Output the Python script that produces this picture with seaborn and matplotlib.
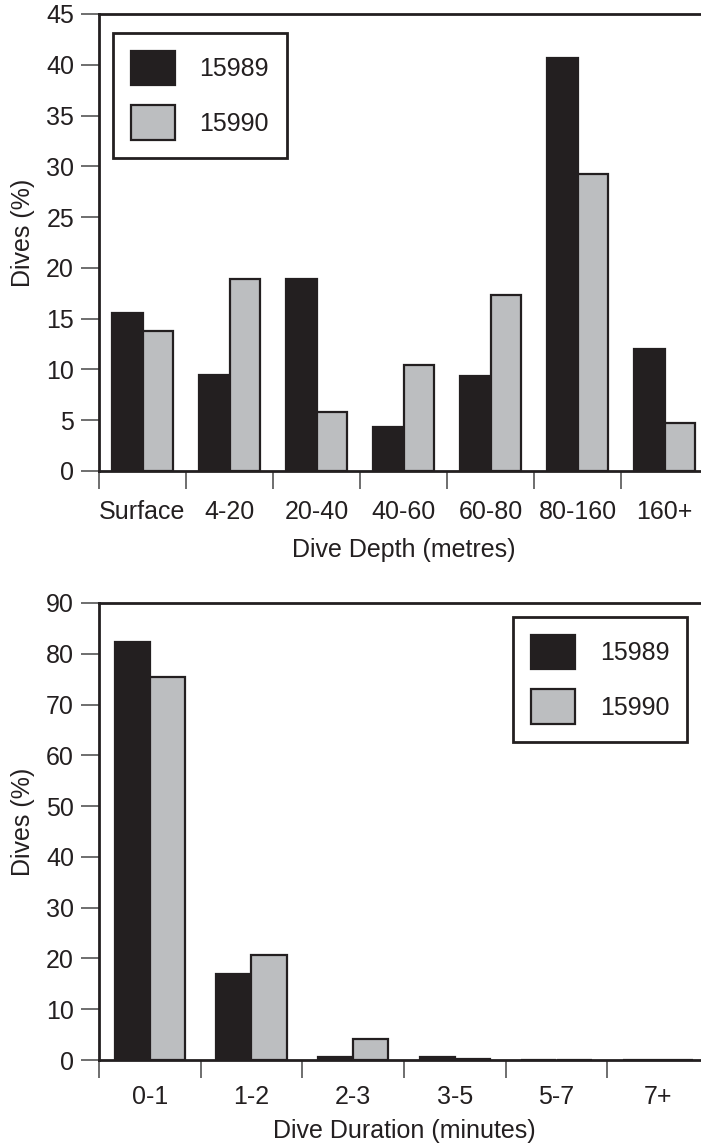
import numpy as np
import pandas as pd
import matplotlib
matplotlib.use("Agg")
import matplotlib.pyplot as plt
import seaborn as sns

# dive depth distribution (% of dives)
depth_cats = ['Surface', '4-20', '20-40', '40-60', '60-80', '80-160', '160+']
depth_15989 = [15.6, 9.5, 18.9, 4.3, 9.4, 40.7, 12.0]
depth_15990 = [13.8, 18.9, 5.8, 10.4, 17.3, 29.2, 4.7]

# dive duration distribution (% of dives)
dur_cats = ['0-1', '1-2', '2-3', '3-5', '5-7', '7+']
dur_15989 = [82.3, 16.9, 0.6, 0.6, 0.0, 0.0]
dur_15990 = [75.5, 20.6, 4.1, 0.1, 0.0, 0.0]

tags = ['15989', '15990']

sns.set_style("white")
plt.rcParams['font.family'] = ['Liberation Sans', 'DejaVu Sans']

INK = '#231f20'
GREY = '#bcbec0'
FS = 18


def long_form(cats, a, b):
    return pd.DataFrame({
        'cat': cats * 2,
        'pct': list(a) + list(b),
        'tag': [tags[0]] * len(cats) + [tags[1]] * len(cats),
    })


def draw(ax, cats, a, b, ymax, step, xlabel, leg_xy, xlabelpad, xtickpad):
    df = long_form(cats, a, b)
    sns.barplot(data=df, x='cat', y='pct', hue='tag', hue_order=tags,
                palette=[INK, GREY], saturation=1, width=0.69, gap=0,
                edgecolor=INK, linewidth=1.6, ax=ax)
    n = len(cats)
    ax.set_xlim(-0.5, n - 0.5)
    ax.set_ylim(0, ymax)
    ax.set_yticks(np.arange(0, ymax + 1, step))
    # tick marks sit on the category boundaries, labels in the middle
    ax.set_xticks(np.arange(n + 1) - 0.5)
    ax.set_xticklabels([])
    ax.set_xticks(np.arange(n), minor=True)
    ax.set_xticklabels(cats, minor=True)
    ax.tick_params(axis='x', which='major', bottom=True, direction='out',
                   length=13, width=1.2, color='#555555')
    ax.tick_params(axis='x', which='minor', bottom=True, length=0,
                   pad=xtickpad + 13, labelsize=FS, labelcolor=INK)
    ax.tick_params(axis='y', left=True, direction='out', length=13, width=1.2,
                   color='#555555', labelsize=FS, labelcolor=INK, pad=5)
    for s in ['left', 'bottom', 'top']:
        ax.spines[s].set_visible(True)
        ax.spines[s].set_linewidth(2)
        ax.spines[s].set_color(INK)
    ax.spines['right'].set_visible(False)
    ax.set_xlabel(xlabel, fontsize=FS, color=INK, labelpad=xlabelpad)
    ax.set_ylabel('Dives (%)', fontsize=FS, color=INK)
    ax.yaxis.set_label_coords(-0.105, 0.52)
    sns.move_legend(ax, 'upper left', bbox_to_anchor=leg_xy, title=None,
                    frameon=True, fancybox=False, fontsize=FS,
                    handlelength=1.76, handleheight=1.76, labelspacing=0.8,
                    handletextpad=1.0, borderpad=0.7, borderaxespad=0)
    leg = ax.get_legend()
    leg.get_frame().set_edgecolor(INK)
    leg.get_frame().set_linewidth(2)
    leg.get_frame().set_alpha(1)
    for t in leg.get_texts():
        t.set_color(INK)
    for h in leg.legend_handles:
        h.set_edgecolor(INK)
        h.set_linewidth(1.6)


fig = plt.figure(figsize=(7.01, 11.46), dpi=100)
W, H = 701, 1146
ax1 = fig.add_axes([99 / W, (H - 471) / H, 609 / W, 457 / H])
ax2 = fig.add_axes([99 / W, (H - 1060) / H, 610 / W, 457 / H])

draw(ax1, depth_cats, depth_15989, depth_15990, 45, 5, 'Dive Depth (metres)',
     (0.023, 0.958), 10, 8)
draw(ax2, dur_cats, dur_15989, dur_15990, 90, 10, 'Dive Duration (minutes)',
     (0.679, 0.969), 7, 5)

fig.savefig('out.png', dpi=100)
